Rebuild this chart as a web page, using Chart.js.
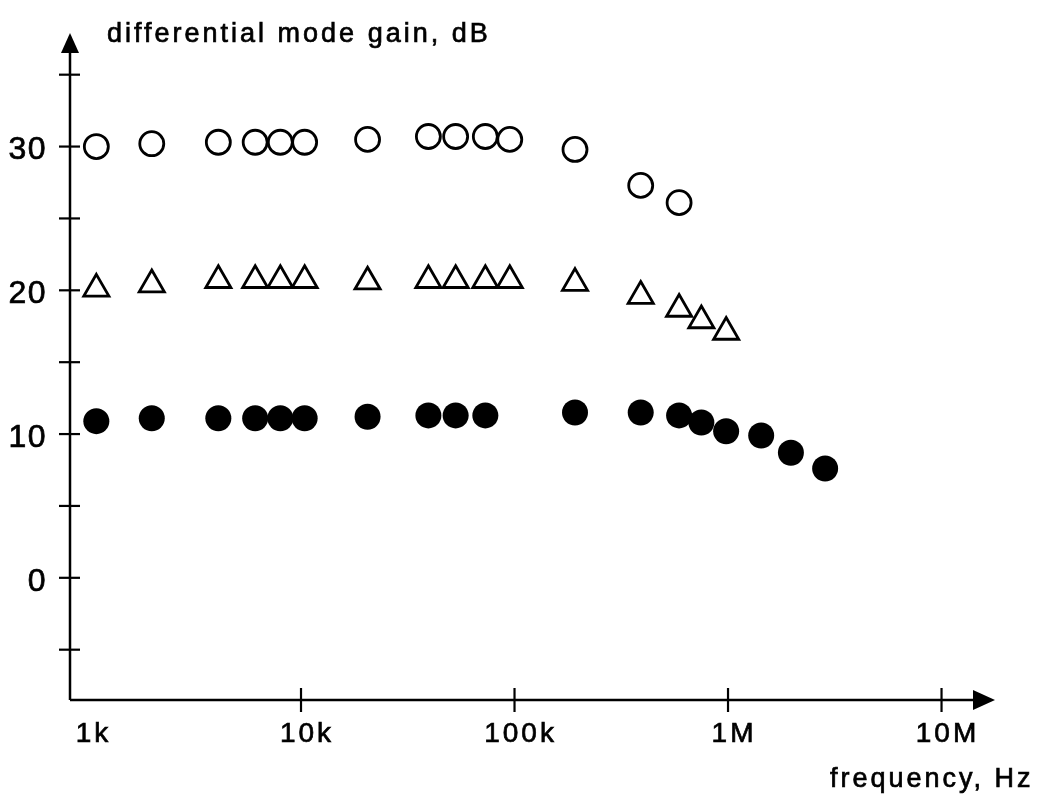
<!DOCTYPE html>
<html>
<head>
<meta charset="utf-8">
<script src="https://cdn.jsdelivr.net/npm/chart.js@4.4.1/dist/chart.umd.min.js"></script>
<style>
  html, body { margin: 0; padding: 0; background: #fff; }
  canvas { display: block; }
</style>
</head>
<body>
<canvas id="gainChart" width="1044" height="802"></canvas>
<script>
const freqHz = [1100, 2000, 4100, 6100, 8000, 10400, 20500, 39500, 53000, 73000,
  95000, 192000, 390000, 590000, 750000, 980000, 1430000, 1970000, 2850000];
const gainCircle = [30.0, 30.2, 30.3, 30.3, 30.3, 30.3, 30.5, 30.7, 30.7, 30.7,
  30.5, 29.8, 27.3, 26.1, null, null, null, null, null];
const gainTriangle = [20.1, 20.4, 20.7, 20.7, 20.7, 20.7, 20.6, 20.7, 20.7, 20.7,
  20.7, 20.5, 19.6, 18.7, 17.9, 17.1, null, null, null];
const gainDot = [10.9, 11.1, 11.1, 11.1, 11.1, 11.1, 11.2, 11.3, 11.3, 11.3,
  null, 11.5, 11.5, 11.3, 10.8, 10.2, 9.9, 8.7, 7.6];

const yTickValues = [-5, 0, 5, 10, 15, 20, 25, 30, 35];
const yLabelValues = [0, 10, 20, 30];
const xTickValues = [1e4, 1e5, 1e6, 1e7];
const xLabelValues = [1e3, 1e4, 1e5, 1e6, 1e7];
const xLabelTexts = ["1k", "10k", "100k", "1M", "10M"];
const yTitle = "differential mode gain, dB";
const xTitle = "frequency, Hz";

const FONT = '"Liberation Sans", Arial, Helvetica, sans-serif';

function toPoints(gains) {
  return freqHz
    .map((f, i) => ({ x: f, y: gains[i] }))
    .filter((p) => p.y !== null);
}

// fill + thin stroke, the scanned print looks a bit heavier than regular
function inkText(ctx, text, x, y) {
  ctx.fillText(text, x, y);
  ctx.strokeText(text, x, y);
}

// axes drawn as arrows with crossing ticks, like the hand-drawn original
const arrowAxes = {
  id: "arrowAxes",
  beforeDatasetsDraw(chart) {
    const ctx = chart.ctx;
    const area = chart.chartArea;
    const xs = chart.scales.x;
    const ys = chart.scales.y;
    ctx.save();
    ctx.strokeStyle = "#000";
    ctx.fillStyle = "#000";
    ctx.lineWidth = 2.5;

    // y axis
    ctx.beginPath();
    ctx.moveTo(area.left, area.bottom);
    ctx.lineTo(area.left, area.top + 15);
    ctx.stroke();
    ctx.beginPath();
    ctx.moveTo(area.left, area.top);
    ctx.lineTo(area.left - 9, area.top + 20);
    ctx.lineTo(area.left + 9, area.top + 20);
    ctx.closePath();
    ctx.fill();

    // x axis
    ctx.beginPath();
    ctx.moveTo(area.left, area.bottom);
    ctx.lineTo(area.right - 15, area.bottom);
    ctx.stroke();
    ctx.beginPath();
    ctx.moveTo(area.right, area.bottom);
    ctx.lineTo(area.right - 22, area.bottom - 10);
    ctx.lineTo(area.right - 22, area.bottom + 10);
    ctx.closePath();
    ctx.fill();

    ctx.lineWidth = 2.2;
    yTickValues.forEach((v) => {
      const py = ys.getPixelForValue(v);
      ctx.beginPath();
      ctx.moveTo(area.left - 11, py);
      ctx.lineTo(area.left + 10, py);
      ctx.stroke();
    });
    xTickValues.forEach((v) => {
      const px = xs.getPixelForValue(v);
      ctx.beginPath();
      ctx.moveTo(px, area.bottom - 12);
      ctx.lineTo(px, area.bottom + 12);
      ctx.stroke();
    });
    ctx.restore();
  },
  afterDraw(chart) {
    const ctx = chart.ctx;
    const area = chart.chartArea;
    const xs = chart.scales.x;
    const ys = chart.scales.y;
    ctx.save();
    ctx.fillStyle = "#000";
    ctx.strokeStyle = "#000";
    ctx.lineWidth = 0.7;

    ctx.font = "32px " + FONT;
    ctx.letterSpacing = "1.5px";
    ctx.textAlign = "right";
    ctx.textBaseline = "middle";
    yLabelValues.forEach((v) => {
      inkText(ctx, String(v), 47, ys.getPixelForValue(v) + 4);
    });

    ctx.font = "28px " + FONT;
    ctx.letterSpacing = "3px";
    ctx.textAlign = "center";
    xLabelValues.forEach((v, i) => {
      inkText(ctx, xLabelTexts[i], xs.getPixelForValue(v) + 6, area.bottom + 34);
    });

    ctx.font = "27px " + FONT;
    ctx.textAlign = "left";
    ctx.textBaseline = "alphabetic";
    inkText(ctx, yTitle, 107, 42);
    inkText(ctx, xTitle, 830, 787);
    ctx.restore();
  },
};

new Chart(document.getElementById("gainChart").getContext("2d"), {
  type: "scatter",
  data: {
    datasets: [
      {
        label: "circles",
        data: toPoints(gainCircle),
        pointStyle: "circle",
        pointRadius: 12,
        backgroundColor: "rgba(0,0,0,0)",
        borderColor: "#000",
        borderWidth: 2.8,
      },
      {
        label: "triangles",
        data: toPoints(gainTriangle),
        pointStyle: "triangle",
        pointRadius: 14.5,
        backgroundColor: "rgba(0,0,0,0)",
        borderColor: "#000",
        borderWidth: 2.8,
      },
      {
        label: "dots",
        data: toPoints(gainDot),
        pointStyle: "circle",
        pointRadius: 13,
        backgroundColor: "#000",
        borderColor: "#000",
        borderWidth: 0,
      },
    ],
  },
  options: {
    responsive: false,
    devicePixelRatio: 1,
    animation: false,
    layout: { padding: { left: 70, right: 49, top: 33, bottom: 102 } },
    plugins: {
      legend: { display: false },
      tooltip: { enabled: false },
    },
    scales: {
      x: { type: "logarithmic", min: 828, max: 1.78e7, display: false },
      y: { type: "linear", min: -8.5, max: 37.9, display: false },
    },
  },
  plugins: [arrowAxes],
});
</script>
</body>
</html>
